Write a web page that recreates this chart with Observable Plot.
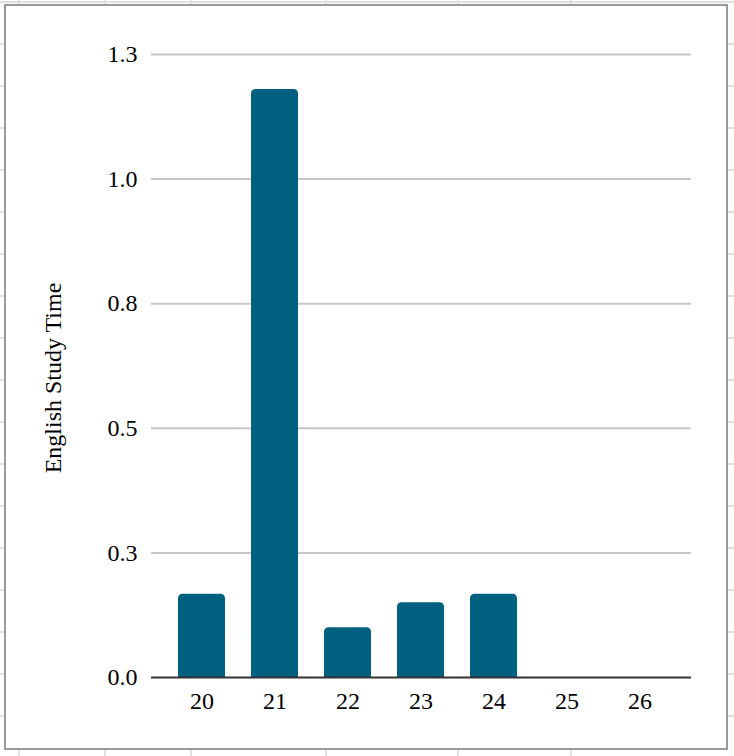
<!DOCTYPE html>
<html>
<head>
<meta charset="utf-8">
<script src="https://cdn.jsdelivr.net/npm/d3@7"></script>
<script src="https://cdn.jsdelivr.net/npm/@observablehq/plot@0.6"></script>
<style>
  html, body { margin: 0; padding: 0; }
  body {
    width: 734px; height: 756px; position: relative; overflow: hidden;
    background-color: #fff;
    background-image:
      linear-gradient(to right, transparent 0 18px, #e0e0e0 18px 20px, transparent 20px 104px, #e0e0e0 104px 106px, transparent 106px 190px, #e0e0e0 190px 192px, transparent 192px 325px, #e0e0e0 325px 327px, transparent 327px 457px, #e0e0e0 457px 459px, transparent 459px 570px, #e0e0e0 570px 572px, transparent 572px),
      repeating-linear-gradient(to bottom, #e0e0e0 0 2px, transparent 2px 42px);
    background-position: 0 0, 0 1px;
  }
  #box {
    position: absolute; left: 4px; top: 4px; width: 720px; height: 742px;
    border: 2px solid #999; background: #fff;
  }
  #chart { position: absolute; left: 0; top: 0; }
</style>
</head>
<body>
<div id="box"></div>
<div id="chart"></div>
<script>
const ages = ["20", "21", "22", "23", "24", "25", "26"];
const studyTime = [0.167, 1.18, 0.10, 0.15, 0.167, 0, 0];
const yTicks = [0, 0.25, 0.5, 0.75, 1.0, 1.25];
const yTickLabels = ["0.0", "0.3", "0.5", "0.8", "1.0", "1.3"];
const yLabel = "English Study Time";

const data = ages.map((a, i) => ({age: a, value: studyTime[i]}));
const barColor = "#00607f";

const chart = Plot.plot({
  width: 734,
  height: 756,
  marginLeft: 151,
  marginRight: 43,
  marginTop: 54,
  marginBottom: 79,
  style: {
    fontFamily: "'Liberation Serif', 'Times New Roman', serif",
    fontSize: "24px",
    color: "#000",
    background: "transparent",
    overflow: "visible"
  },
  x: {domain: ages, padding: 0.35, label: null, tickSize: 0, tickPadding: 14},
  y: {
    domain: [0, 1.25],
    ticks: yTicks,
    tickFormat: (d) => yTickLabels[yTicks.indexOf(d)],
    label: null,
    tickSize: 0,
    tickPadding: 14
  },
  marks: [
    Plot.ruleY(yTicks.filter((t) => t > 0), {stroke: "#c8c8c8", strokeWidth: 2}),
    Plot.barY(data, {x: "age", y: "value", fill: barColor, rx: 4.5}),
    Plot.barY(data.filter((d) => d.value > 0), {x: "age", y1: 0, y2: (d) => d.value / 2, fill: barColor}),
    Plot.ruleY([0], {stroke: "#333", strokeWidth: 2}),
    Plot.text([yLabel], {text: (d) => d, frameAnchor: "left", textAnchor: "middle", rotate: -90, dx: -98, dy: 12, fontSize: 24, fill: "#000"})
  ]
});
document.getElementById("chart").appendChild(chart);
</script>
</body>
</html>
